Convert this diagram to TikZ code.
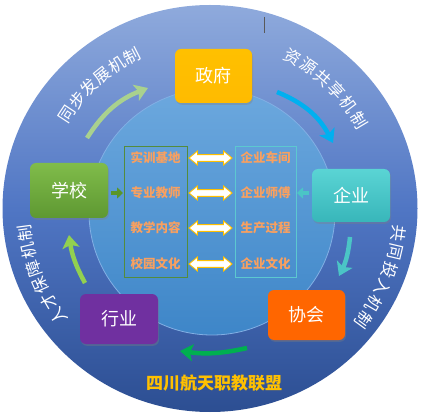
\documentclass[tikz,border=0pt]{standalone}
\usepackage{fontspec}
\newfontfamily\cjk{Noto Sans CJK SC}
\usetikzlibrary{arrows.meta,shadows,calc}
\definecolor{ringtop}{RGB}{143,170,220}
\definecolor{ringmid}{RGB}{80,118,196}
\definecolor{ringbot}{RGB}{44,78,146}
\definecolor{intop}{RGB}{108,168,222}
\definecolor{inbot}{RGB}{62,134,200}
\definecolor{zfc}{RGB}{255,192,0}
\definecolor{xxtop}{RGB}{128,188,74}
\definecolor{xxbot}{RGB}{94,152,50}
\definecolor{qytop}{RGB}{90,212,212}
\definecolor{qybot}{RGB}{56,182,186}
\definecolor{hyc}{RGB}{112,48,160}
\definecolor{xhc}{RGB}{255,102,0}
\definecolor{itemc}{RGB}{248,160,96}
\definecolor{gold}{RGB}{255,192,0}
\definecolor{lboxc}{RGB}{84,140,60}
\definecolor{rboxc}{RGB}{92,200,208}
\definecolor{arA}{RGB}{169,209,142}
\definecolor{arB}{RGB}{0,176,240}
\definecolor{arC}{RGB}{75,197,198}
\definecolor{arD}{RGB}{0,176,80}
\definecolor{arE}{RGB}{146,208,80}
\definecolor{titc}{RGB}{255,192,0}
\begin{document}
\begin{tikzpicture}[x=1pt,y=1pt,
  box/.style={rounded corners=6pt, minimum width=78pt, minimum height=53pt, text=white,
    font=\cjk\fontsize{18}{20}\selectfont,
    drop shadow={opacity=0.35,shadow xshift=1pt,shadow yshift=-1.8pt}},
  item/.style={font=\cjk\bfseries\fontsize{12.5}{14}\selectfont, text=itemc, inner sep=0pt},
  darrow/.style={draw=gold, fill=white, line width=0.9pt, line join=miter},
  arclbl/.style={text=white, font=\cjk\fontsize{16.5}{17}\selectfont, inner sep=0pt},
  curv/.style={line width=4.5pt, -{Stealth[length=13pt,width=17pt,inset=3pt]}},
  small/.style={line width=4.5pt, -{Triangle[length=6pt,width=11pt]}, shorten <=3pt, shorten >=0.5pt},
]
\useasboundingbox (0,0) rectangle (428,418);
\coordinate (C) at (210,209.5);
% rings
\shade[top color=ringtop, bottom color=ringbot, middle color=ringmid] (C) ellipse [x radius=207.5, y radius=203.5];
\shade[top color=intop, bottom color=inbot, draw={rgb,255:red,130;green,175;blue,228}, line width=0.8pt] (212,206) circle [radius=123];
\draw[gray!70!black, line width=0.6pt] (264.5,401) -- (264.5,385);
% main nodes
\node[box, top color=zfc, bottom color=zfc!92!orange, minimum width=77pt, minimum height=54pt] (zf) at (213.5,342) {政府};
\node[box, top color=xxtop, bottom color=xxbot, minimum height=55pt] (xx) at (69,227.5) {学校};
\node[box, top color=qytop, bottom color=qybot] (qy) at (351,222.5) {企业};
\node[box, fill=hyc, minimum height=50pt] (hy) at (119,99) {行业};
\node[box, fill=xhc, minimum width=77pt, minimum height=50pt] (xh) at (306.5,103) {协会};
% inner boxes
\node[draw=lboxc, line width=1pt, minimum width=63pt, minimum height=130pt, inner sep=0pt] (lbox) at (155.5,206) {};
\node[draw=rboxc, line width=1pt, minimum width=61pt, minimum height=130pt, inner sep=0pt] (rbox) at (265.5,206) {};
\node[item] (l1) at (155.5,260) {实训基地};
\node[item] (l2) at (155.5,225) {专业教师};
\node[item] (l3) at (155.5,190) {教学内容};
\node[item] (l4) at (155.5,154) {校园文化};
\node[item] (r1) at (265.5,260) {企业车间};
\node[item] (r2) at (265.5,225) {企业师傅};
\node[item] (r3) at (265.5,190) {生产过程};
\node[item] (r4) at (265.5,154) {企业文化};
\foreach \k in {1,2,3,4}{
  \coordinate (m\k) at ($(l\k.east)!0.5!(r\k.west)$);
  \draw[darrow] ($(m\k)+(-21.5,0)$) -- ++(8.5,7) -- ++(0,-3.6) -- ++(26,0) -- ++(0,3.6)
     -- ++(8.5,-7) -- ++(-8.5,-7) -- ++(0,3.6) -- ++(-26,0) -- ++(0,-3.6) -- cycle;
}
\draw[small, draw={rgb,255:red,90;green,150;blue,40}] (xx.east |- l2) -- (lbox.west |- l2);
\draw[small, draw=arC] (qy.west |- r2) -- (rbox.east |- r2);
% curved arrows
\coordinate (a1s) at (87,280); \coordinate (a1e) at (148,330);
\coordinate (a2s) at (277,326); \coordinate (a2e) at (333,275);
\coordinate (a3s) at (350,181); \coordinate (a3e) at (339,142);
\coordinate (a4s) at (247,70); \coordinate (a4e) at (180,67);
\coordinate (a5s) at (85,135); \coordinate (a5e) at (69,183);
\draw[curv, arA] (a1s) to[bend left=18] (a1e);
\draw[curv, arB] (a2s) to[bend left=20] (a2e);
\draw[curv, arC] (a3s) to[bend left=10] (a3e);
\draw[curv, arD] (a4s) to[bend left=10] (a4e);
\draw[curv, arE] (a5s) to[bend left=10] (a5e);
% arc labels
\foreach \ch [count=\i from 0] in {同,步,发,展,机,制}{
  \node[arclbl, rotate={146.8-\i*5.96-90}] (tl\i) at ($(C)+({146.8-\i*5.96}:171)$) {\ch};
}
\foreach \ch [count=\i from 0] in {资,源,共,享,机,制}{
  \node[arclbl, rotate={61.3-\i*6.1-90}] (tr\i) at ($(C)+({61.3-\i*6.1}:173)$) {\ch};
}
\foreach \ch [count=\i from 0] in {共,同,投,入,机,制}{
  \node[arclbl, rotate={-7.5-\i*5.68-90}] (rt\i) at ($(C)+({-7.5-\i*5.68}:190)$) {\ch};
}
\foreach \ch [count=\i from 0] in {人,才,保,障,机,制}{
  \node[arclbl, rotate={215.5-\i*5.58-90}] (lt\i) at ($(C)+({215.5-\i*5.58}:186)$) {\ch};
}
% title
\node[text=titc, font=\cjk\bfseries\fontsize{17}{18}\selectfont] (title) at (214,35) {四川航天职教联盟};
\end{tikzpicture}
\end{document}
